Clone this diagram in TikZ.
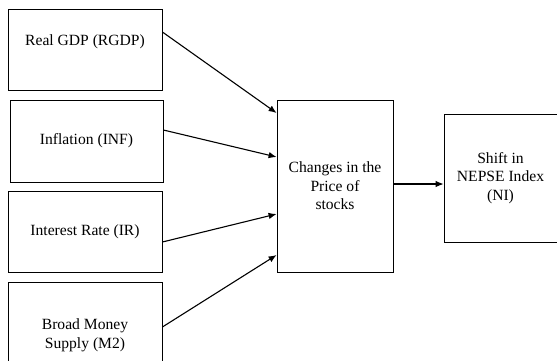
\documentclass[tikz,border=0pt]{standalone}
\usepackage{fontspec}
\setmainfont{Liberation Serif}
\usetikzlibrary{arrows.meta}

\begin{document}
\begin{tikzpicture}[x=1pt, y=-1pt,
    factor/.style={draw, line width=0.8pt, align=center, inner sep=0pt,
        font=\fontsize{15.6}{18.5}\selectfont},
    link/.style={line width=1.1pt, -{Latex[length=8pt, width=6.5pt]}}]
    \useasboundingbox (0,0) rectangle (557,360);

    % Draw the macroeconomic factor boxes
    \node[factor, minimum width=154pt, minimum height=81pt, text depth=19pt] (rgdp) at (85,49.5) {Real GDP (RGDP)};
    \node[factor, minimum width=153pt, minimum height=82pt] (inf) at (86.5,141) {Inflation (INF)};
    \node[factor, minimum width=154pt, minimum height=81pt] (ir) at (85,231.5) {Interest Rate (IR)};
    \node[factor, minimum width=154pt, minimum height=107pt] (m2) at (85,335.5) {Broad Money\\Supply (M2)};

    % Draw the stock price and index boxes
    \node[factor, minimum width=116pt, minimum height=172pt] (price) at (335,186) {Changes in the\\Price of\\stocks};
    \node[factor, minimum width=113pt, minimum height=128pt] (nepse) at (500.5,178) {Shift in\\NEPSE Index\\(NI)};

    % Draw the arrows into the price box
    \draw[link] ([yshift=17.5pt]rgdp.east) -- ([yshift=73pt]price.west);
    \draw[link] ([yshift=11pt]inf.east) -- ([yshift=29pt]price.west);
    \draw[link] ([yshift=-10.5pt]ir.east) -- ([yshift=-28pt]price.west);
    \draw[link] ([yshift=8.5pt]m2.east) -- ([yshift=-69pt]price.west);

    % Draw the arrow to the index box
    \draw[link] ([yshift=2pt]price.east) -- ([yshift=2pt]price.east -| nepse.west);
\end{tikzpicture}
\end{document}
